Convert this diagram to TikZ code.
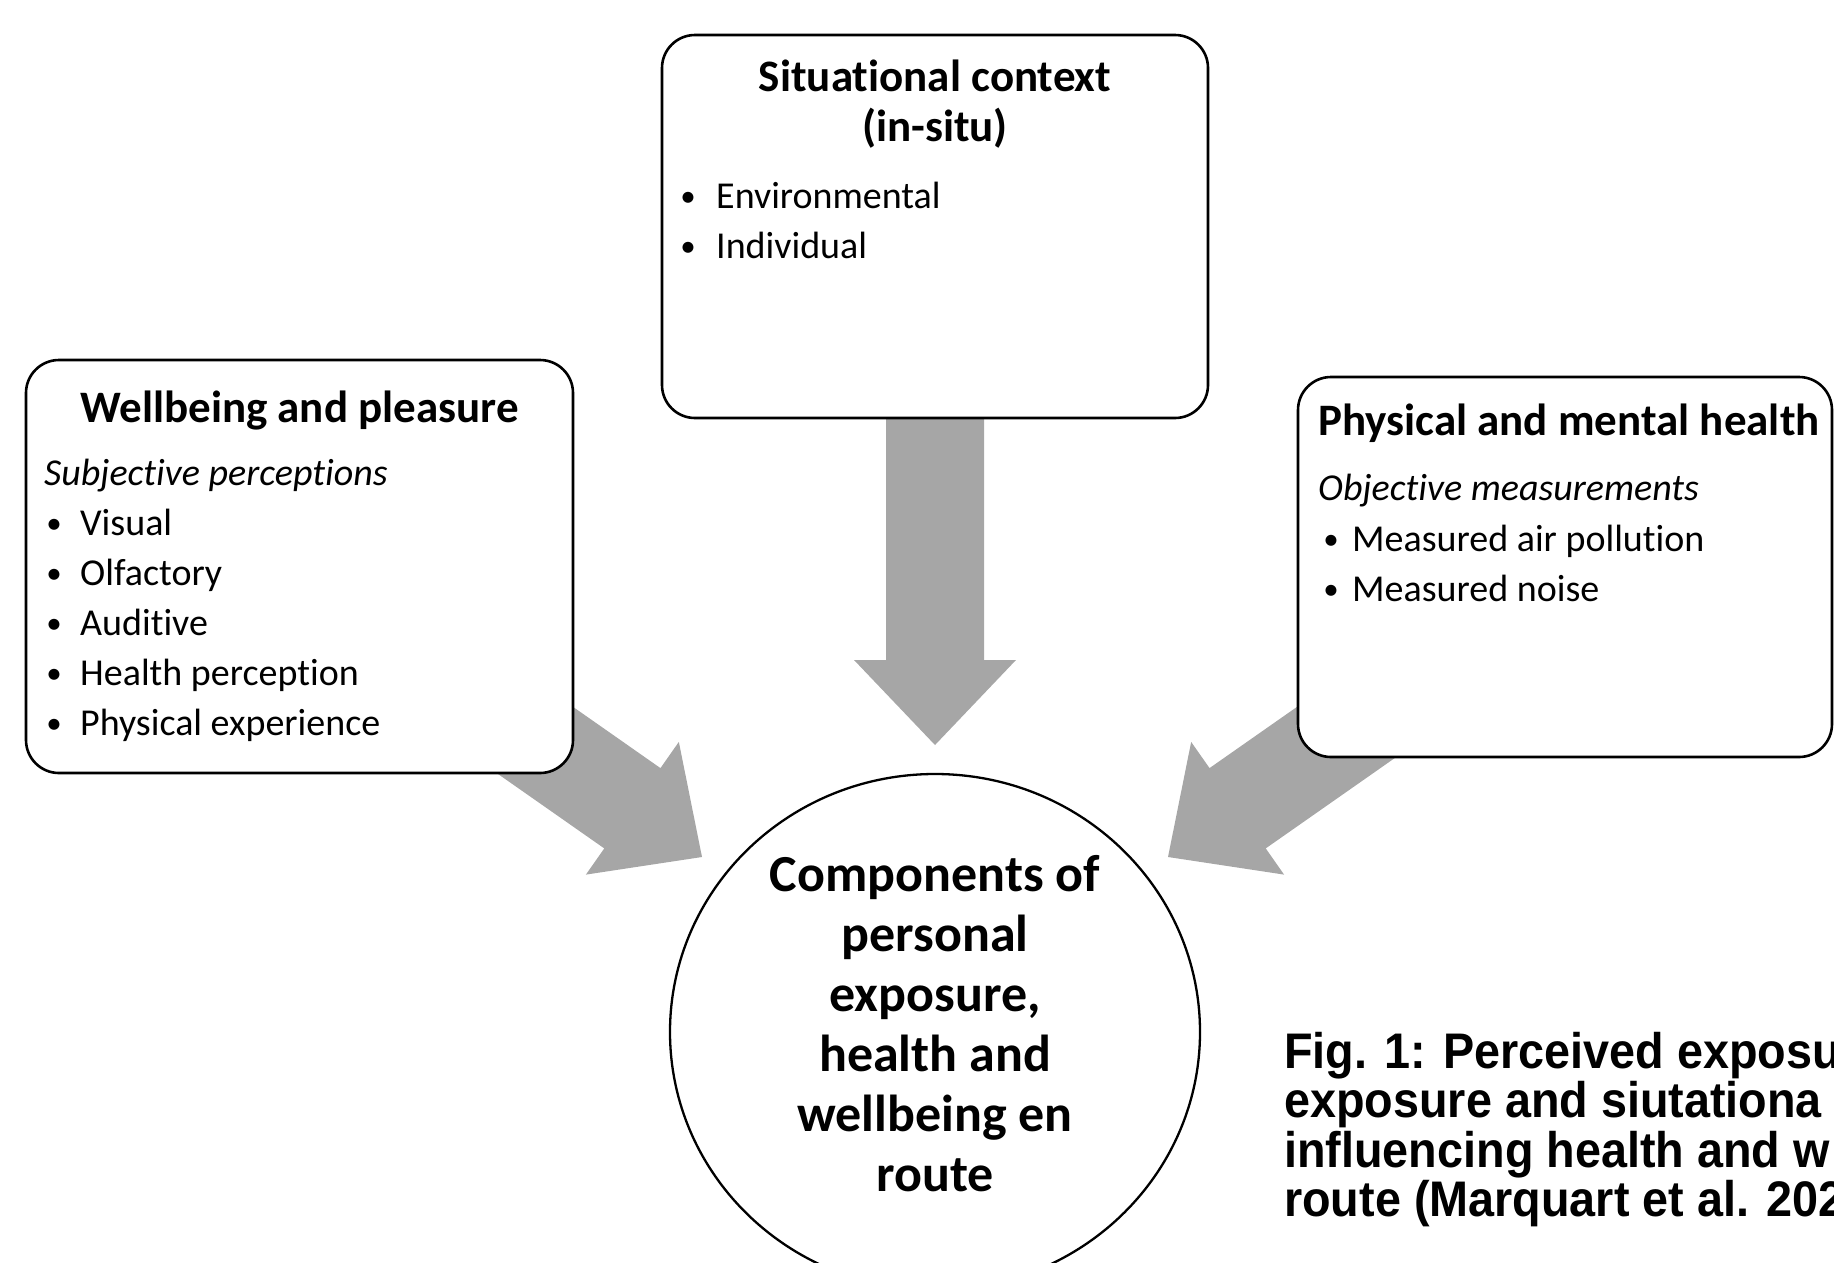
\documentclass[tikz,border=0pt]{standalone}
\usepackage{fontspec}
\setmainfont{Carlito}[Ligatures=NoCommon]
\newfontfamily\capfont{Liberation Sans}[FakeStretch=0.935]
\usetikzlibrary{shapes.geometric}
\definecolor{arrowgray}{RGB}{166,166,166}
\begin{document}
\begin{tikzpicture}[x=1pt,y=-1pt,
  box/.style={draw=black, line width=2.6pt, rounded corners=33pt, fill=white, inner sep=0pt},
  fatarrow/.style={fill=arrowgray, draw=none},
  ttl/.style={inner sep=0pt, anchor=base, font=\fontsize{45}{54}\selectfont\bfseries},
  ttlw/.style={inner sep=0pt, anchor=base west, font=\fontsize{45}{54}\selectfont\bfseries},
  txt/.style={inner sep=0pt, anchor=base west, font=\fontsize{38}{46}\selectfont},
  itl/.style={inner sep=0pt, anchor=base west, font=\fontsize{38}{46}\selectfont\itshape},
  bul/.style={inner sep=0pt, anchor=base, font=\fontsize{31}{46}\selectfont},
  ctr/.style={inner sep=0pt, anchor=base, font=\fontsize{52}{60}\selectfont\bfseries},
  captxt/.style={inner sep=0pt, anchor=base west, font=\capfont\fontsize{50}{50}\selectfont\bfseries}
]
\useasboundingbox (0,0) rectangle (1834,1262);

% arrow tips
\coordinate (tipL) at (702,857);
\coordinate (tipR) at (1168,857);
\coordinate (tipD) at (935,745);

% block arrows (drawn first, boxes cover their tails)
\begin{scope}[shift={(tipL)}, rotate=-35]
  \fill[fatarrow] (0,0) -- (-85,81) -- (-85,49) -- (-260,49) -- (-260,-49) -- (-85,-49) -- (-85,-81) -- cycle;
\end{scope}
\begin{scope}[shift={(tipR)}, rotate=-145]
  \fill[fatarrow] (0,0) -- (-85,81) -- (-85,49) -- (-260,49) -- (-260,-49) -- (-85,-49) -- (-85,-81) -- cycle;
\end{scope}
\begin{scope}[shift={(tipD)}, rotate=-90]
  \fill[fatarrow] (0,0) -- (-85,81) -- (-85,49) -- (-345,49) -- (-345,-49) -- (-85,-49) -- (-85,-81) -- cycle;
\end{scope}

% boxes
\node[box, minimum width=547pt, minimum height=413pt] (wb) at (299.5,566.5) {};
\node[box, minimum width=546pt, minimum height=383pt] (sc) at (935,226.5) {};
\node[box, minimum width=534pt, minimum height=380pt] (pm) at (1565,567) {};
\node[draw=black, line width=2.3pt, ellipse, fill=white, inner sep=0pt,
      minimum width=530pt, minimum height=516pt] (cc) at (935,1032) {};

% left box text
\node[ttl] (wbt) at (299.5,422) {Wellbeing and pleasure};
\node[itl] (wbs) at (44,485) {Subjective perceptions};
\node[bul] (wbb1) at (54,533) {•};
\node[txt] (wbi1) at (80,535) {Visual};
\node[bul] (wbb2) at (54,583) {•};
\node[txt] (wbi2) at (80,585) {Olfactory};
\node[bul] (wbb3) at (54,633) {•};
\node[txt] (wbi3) at (80,635) {Auditive};
\node[bul] (wbb4) at (54,683) {•};
\node[txt] (wbi4) at (80,685) {Health perception};
\node[bul] (wbb5) at (54,733) {•};
\node[txt] (wbi5) at (80,735) {Physical experience};

% top box text
\node[ttl] (sct1) at (935,91) {Situational context};
\node[ttl] (sct2) at (935,141) {(in-situ)};
\node[bul] (scb1) at (688,206) {•};
\node[txt] (sci1) at (716,208) {Environmental};
\node[bul] (scb2) at (688,256) {•};
\node[txt] (sci2) at (716,258) {Individual};

% right box text
\node[ttlw] (pmt) at (1318,435) {Physical and mental health};
\node[itl] (pms) at (1318,500) {Objective measurements};
\node[bul] (pmb1) at (1331,549) {•};
\node[txt] (pmi1) at (1352,551) {Measured air pollution};
\node[bul] (pmb2) at (1331,599) {•};
\node[txt] (pmi2) at (1352,601) {Measured noise};

% circle text
\node[ctr] (c1) at (935,891) {Components of};
\node[ctr] (c2) at (935,951) {personal};
\node[ctr] (c3) at (935,1011) {exposure,};
\node[ctr] (c4) at (935,1071) {health and};
\node[ctr] (c5) at (935,1131) {wellbeing en};
\node[ctr] (c6) at (935,1191) {route};

% caption (cut at the page edge, as in the reference)
\node[captxt] (f1) at (1284,1068) {Fig. 1: Perceived exposu};
\node[captxt] (f2) at (1284,1117) {exposure and siutationa};
\node[captxt] (f3) at (1284,1167) {influencing health and w};
\node[captxt] (f4) at (1284,1216) {route (Marquart et al. 202};
\end{tikzpicture}
\end{document}
